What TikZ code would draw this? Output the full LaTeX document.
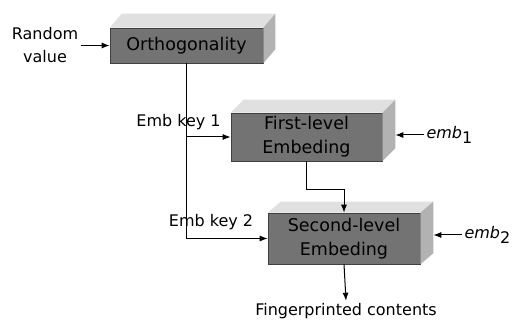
\documentclass[tikz,border=0pt]{standalone}
\usepackage{fontspec}
\setmainfont{DejaVu Sans}
\usepackage{tikz}
\usetikzlibrary{arrows.meta,calc}

\newcommand{\blockfaces}[3]{%
  \fill[topface] (#1.north west) -- ++(#2,-#3) -- ($(#1.north east)+(#2,-#3)$) -- (#1.north east) -- cycle;
  \fill[sideface] (#1.north east) -- ++(#2,-#3) -- ($(#1.south east)+(#2,-#3)$) -- (#1.south east) -- cycle;
}

\begin{document}
\begin{tikzpicture}[x=1pt,y=-1pt,>={Latex[length=8pt,width=6pt]},line width=1pt,
    block/.style={fill=black!55,draw=black!75,line width=0.6pt,inner sep=0pt,align=center,
      font=\fontsize{17.5}{24}\selectfont},
    topface/.style={fill=black!12},
    sideface/.style={fill=black!30},
    lbl/.style={font=\fontsize{16}{23}\selectfont,inner sep=2pt,align=center}]
      \useasboundingbox (0,0) rectangle (519,320);

      \node[block,minimum width=153pt,minimum height=35pt] (ortho) at (186.5,45.5) {Orthogonality};
      \node[block,minimum width=151pt,minimum height=48pt] (first) at (306.5,137) {First-level\\Embeding};
      \node[block,minimum width=152pt,minimum height=51pt] (second) at (344,238.5) {Second-level\\Embeding};
      \blockfaces{ortho}{12}{14}
      \blockfaces{first}{13}{13}
      \blockfaces{second}{13}{11}

      \node[lbl] (random) at (45,45.5) {Random\\value};
      \node[lbl] (key1) at (178.5,122) {Emb key 1};
      \node[lbl] (key2) at (211,222) {Emb key 2};
      \node[lbl,anchor=west] (emb1) at (424,135) {\textit{emb}\raisebox{-0.5ex}{1}};
      \node[lbl,anchor=west] (emb2) at (462,235) {\textit{emb}\raisebox{-0.5ex}{2}};
      \node[lbl] (result) at (346,311) {Fingerprinted contents};

      \coordinate (firstback) at ($(first.east)+(13,-2)$);
      \coordinate (secondback) at ($(second.east)+(13,-3)$);

      \draw[->] (random.east) -- (ortho.west);
      \draw[->] (ortho.south) |- (first.west);
      \draw[->] (ortho.south) |- (second.west);
      \draw[->] (first.south) -- ++(0,28) -| (second.north);
      \draw[->] (emb1.west) -- (emb1.west -| firstback);
      \draw[->] (emb2.west) -- (emb2.west -| secondback);
      \draw[->] (second.south) -- (result.north);
\end{tikzpicture}
\end{document}
